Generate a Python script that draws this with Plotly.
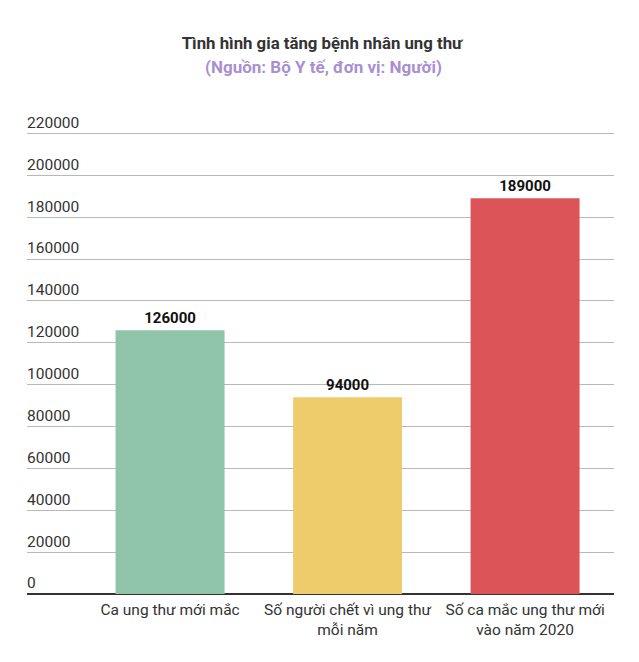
import plotly.graph_objects as go

categories = ["Ca ung thư mới mắc", "Số người chết vì ung thư<br>mỗi năm", "Số ca mắc ung thư mới<br>vào năm 2020"]
values = [126000, 94000, 189000]
colors = ["#8fc4a8", "#eecb6b", "#dc5457"]
tick_vals = [0, 20000, 40000, 60000, 80000, 100000, 120000, 140000, 160000, 180000, 200000, 220000]
tick_text = [str(v) for v in tick_vals]

# page offset (body margin) compensation: 8px
OFF = 8
W, H = 639, 662
Y_MAX = 235000
PX_PER_UNIT = 461 / 220000
PLOT_L = 27 - OFF
PLOT_R = 614 - OFF
Y_BOT = 594 - OFF
Y_TOP = Y_BOT - Y_MAX * PX_PER_UNIT
plot_h = Y_BOT - Y_TOP
plot_w = PLOT_R - PLOT_L

fig = go.Figure()
fig.add_trace(go.Bar(
    x=list(range(len(categories))),
    y=values,
    marker=dict(color=colors, line=dict(width=0)),
    width=0.614,
    text=[str(v) for v in values],
    textposition="outside",
    textfont=dict(family="Roboto", size=15, color="#111111"),
    texttemplate="<b>%{text}</b>",
    cliponaxis=False,
    hoverinfo="skip",
))

fig.update_layout(
    width=W, height=H,
    margin=dict(l=PLOT_L, r=W - PLOT_R, t=Y_TOP, b=H - Y_BOT),
    paper_bgcolor="white", plot_bgcolor="white",
    showlegend=False,
    font=dict(family="Roboto", color="#333333"),
    title=dict(
        text="<b>Tình hình gia tăng bệnh nhân ung thư</b>",
        x=(322 - OFF) / W, xref="container", xanchor="center",
        y=1 - (43 - OFF) / H, yref="container", yanchor="middle",
        font=dict(family="Roboto", size=16.8, color="#333333"),
    ),
    annotations=[dict(
        text="<b>(Nguồn: Bộ Y tế, đơn vị: Người)</b>",
        xref="paper", yref="paper",
        x=(324 - OFF - PLOT_L) / plot_w, y=(Y_BOT - (67 - OFF)) / plot_h,
        xanchor="center", yanchor="middle",
        showarrow=False,
        font=dict(family="Roboto", size=17, color="#a98fd1"),
    )],
)

fig.update_xaxes(
    range=[-0.806, 2.501],
    tickmode="array",
    tickvals=list(range(len(categories))),
    ticktext=categories,
    tickfont=dict(family="Roboto", size=15.5, color="#333333"),
    ticklabelstandoff=4,
    showgrid=False, zeroline=False, showline=False,
    ticks="",
)

fig.update_yaxes(
    range=[0, Y_MAX],
    tickmode="array",
    tickvals=tick_vals,
    ticktext=tick_text,
    ticklabelposition="inside",
    ticklabelshift=-11,
    ticklabelstandoff=-3,
    tickfont=dict(family="Roboto", size=15.5, color="#333333"),
    showgrid=True, gridcolor="#b8b8b8", gridwidth=1,
    zeroline=True, zerolinecolor="#333333", zerolinewidth=2,
    showline=False, ticks="",
)

fig.write_html("out.html")
